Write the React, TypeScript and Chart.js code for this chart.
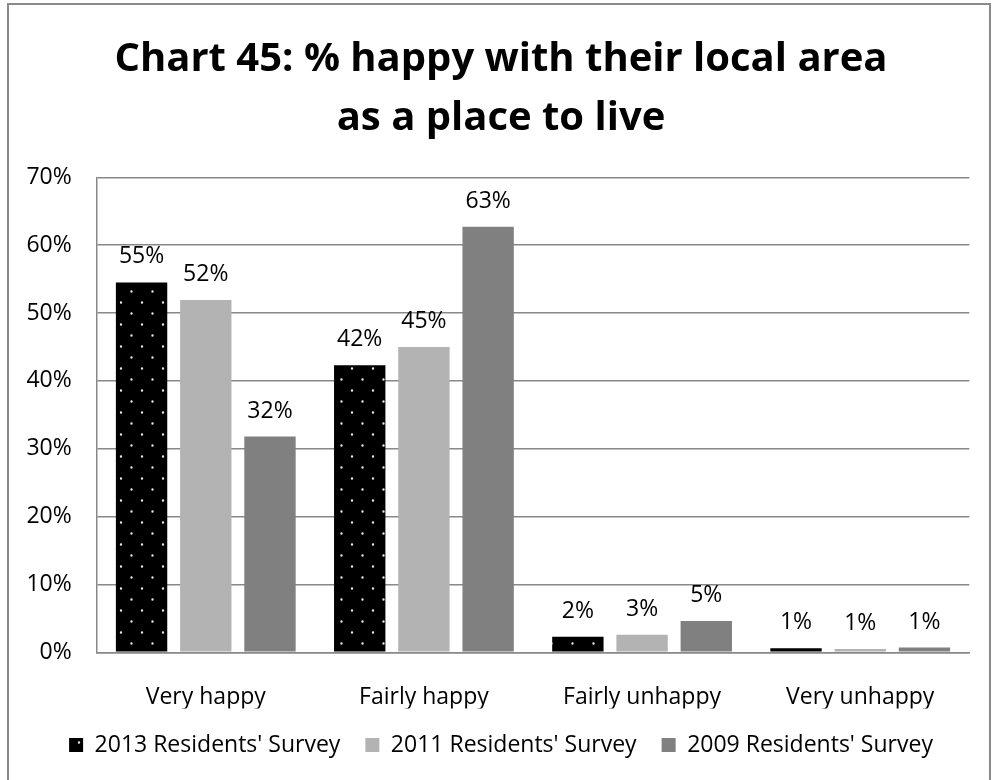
import React, { useEffect, useRef } from 'react';
import { Chart, registerables } from 'chart.js';

Chart.register(...registerables);

const categories = ['Very happy', 'Fairly happy', 'Fairly unhappy', 'Very unhappy'];
const seriesNames = ["2013 Residents' Survey", "2011 Residents' Survey", "2009 Residents' Survey"];
const values2013 = [54.5, 42.3, 2.3, 0.6];
const values2011 = [51.9, 45.0, 2.6, 0.5];
const values2009 = [31.8, 62.7, 4.6, 0.7];
const titleLines = ['Chart 45: % happy with their local area', 'as a place to live'];
const yMin = 0;
const yMax = 70;
const yStep = 10;

const FONT = '"Open Sans"';

function makeDotPattern(): CanvasPattern | string {
  const c = document.createElement('canvas');
  c.width = 21;
  c.height = 22;
  const g = c.getContext('2d');
  if (!g) return '#000';
  g.fillStyle = '#000';
  g.fillRect(0, 0, 21, 22);
  g.fillStyle = '#e6e6e6';
  g.beginPath();
  g.arc(5.5, 5.5, 1.2, 0, Math.PI * 2);
  g.arc(16, 16.5, 1.2, 0, Math.PI * 2);
  g.fill();
  const p = g.createPattern(c, 'repeat');
  return p || '#000';
}

const framePlugin = {
  id: 'frame',
  beforeDraw(chart: any) {
    const ctx = chart.ctx;
    ctx.save();
    ctx.fillStyle = '#fff';
    ctx.fillRect(0, 0, chart.width, chart.height);
    ctx.strokeStyle = '#8a8a8a';
    ctx.lineWidth = 2;
    ctx.strokeRect(8, 4, 982, 840);
    ctx.restore();
  },
};

const valueLabelPlugin = {
  id: 'valueLabels',
  afterDatasetsDraw(chart: any) {
    const ctx = chart.ctx;
    ctx.save();
    ctx.font = `23px ${FONT}`;
    ctx.fillStyle = '#000';
    ctx.textAlign = 'center';
    ctx.textBaseline = 'alphabetic';
    chart.data.datasets.forEach((ds: any, i: number) => {
      const meta = chart.getDatasetMeta(i);
      meta.data.forEach((el: any, j: number) => {
        const v = ds.data[j];
        ctx.fillText(`${Math.round(v)}%`, el.x, el.y - 19);
      });
    });
    ctx.restore();
  },
};

export default function App() {
  const ref = useRef<HTMLCanvasElement | null>(null);

  useEffect(() => {
    if (!ref.current) return;
    const pattern = makeDotPattern();
    const chart = new Chart(ref.current, {
      type: 'bar',
      data: {
        labels: categories,
        datasets: [
          { label: seriesNames[0], data: values2013, backgroundColor: pattern as any, borderWidth: 0 },
          { label: seriesNames[1], data: values2011, backgroundColor: '#b3b3b3', borderWidth: 0 },
          { label: seriesNames[2], data: values2009, backgroundColor: '#808080', borderWidth: 0 },
        ],
      },
      options: {
        responsive: false,
        animation: false,
        devicePixelRatio: 1,
        layout: { padding: { left: 20, right: 10, top: 10, bottom: 33.4 } },
        datasets: { bar: { categoryPercentage: 0.883, barPercentage: 0.8 } },
        plugins: {
          tooltip: { enabled: false },
          title: {
            display: true,
            text: titleLines,
            color: '#000',
            font: { family: FONT, size: 40, weight: 'bold', lineHeight: 59 / 40 },
            padding: { top: 20.1, bottom: 29.2 },
          },
          legend: {
            position: 'bottom',
            labels: {
              boxWidth: 14,
              boxHeight: 14,
              padding: 25,
              color: '#000',
              font: { family: FONT, size: 23 },
            },
          },
        },
        scales: {
          x: {
            grid: { display: false },
            border: { display: true, color: '#888', width: 1.5 },
            ticks: { color: '#000', font: { family: FONT, size: 23 }, padding: 23 },
            afterFit: (s: any) => { s.height = 56.3; },
          },
          y: {
            min: yMin,
            max: yMax,
            ticks: {
              stepSize: yStep,
              color: '#000',
              font: { family: FONT, size: 23 },
              padding: 25,
              callback: (v: any) => `${v}%`,
            },
            grid: { color: '#888', lineWidth: 1.5, drawTicks: false },
            border: { display: true, color: '#888', width: 1.5 },
            afterFit: (s: any) => { s.width = 76.7; },
          },
          y2: {
            position: 'right',
            display: true,
            grid: { display: false },
            border: { display: false },
            ticks: { display: false },
            afterFit: (s: any) => { s.width = 12.7; },
          },
        },
      },
      plugins: [framePlugin, valueLabelPlugin],
    } as any);
    return () => chart.destroy();
  }, []);

  return (
    <div style={{ position: 'fixed', left: 0, top: 0, width: 992, height: 800, overflow: 'hidden' }}>
      <canvas ref={ref} width={992} height={800} style={{ display: 'block', width: 992, height: 800 }} />
    </div>
  );
}
